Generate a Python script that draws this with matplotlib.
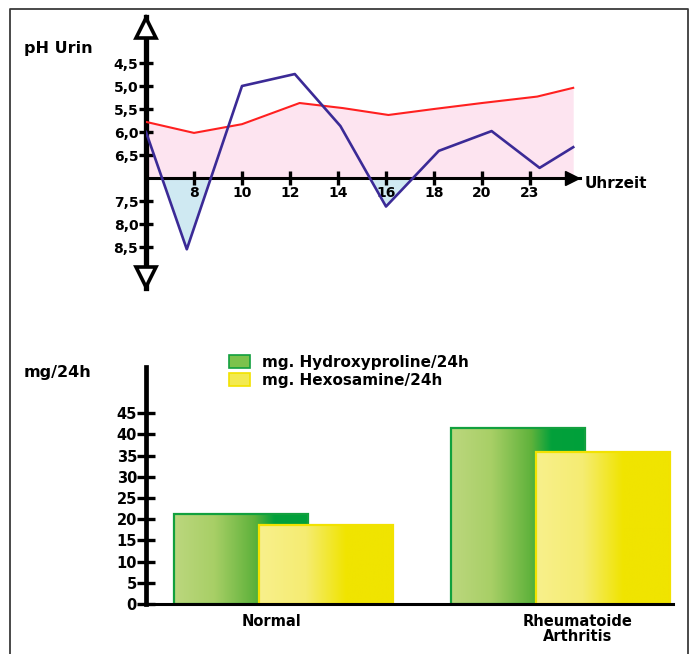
import numpy as np
import matplotlib.pyplot as plt
from matplotlib.colors import LinearSegmentedColormap
from matplotlib.patches import Patch
from matplotlib.lines import Line2D
from matplotlib.transforms import blended_transform_factory

# --- data: urine pH over the day ---
hour_ticks = [8, 10, 12, 14, 16, 18, 20, 22]
hour_labels = ['8', '10', '12', '14', '16', '18', '20', '23']
ph_ticks = [4.5, 5.0, 5.5, 6.0, 6.5, 7.5, 8.0, 8.5]
ph_labels = ['4,5', '5,0', '5,5', '6,0', '6,5', '7,5', '8,0', '8,5']

red_x = [6, 8, 10, 12.4, 14.2, 16.1, 18, 20, 22.3, 23.8]
red_ph = [5.78, 6.02, 5.83, 5.37, 5.48, 5.63, 5.5, 5.37, 5.23, 5.04]
blue_x = [6, 7.7, 10, 12.2, 14.1, 16.0, 18.2, 20.4, 22.4, 23.8]
blue_ph = [6.0, 8.55, 5.0, 4.74, 5.87, 7.62, 6.41, 5.98, 6.78, 6.33]

# --- data: excretion per 24h ---
groups = ['Normal', 'Rheumatoide\nArthritis']
hydroxyproline = [21.3, 41.5]
hexosamine = [18.7, 35.8]
mg_ticks = [0, 5, 10, 15, 20, 25, 30, 35, 40, 45]

W, H = 693, 654
fig = plt.figure(figsize=(W / 100, H / 100), dpi=100)
fig.patch.set_facecolor('white')


def px_axes(left, top, right, bottom):
    # axes placed by pixel box of the reference picture
    return fig.add_axes([left / W, 1 - bottom / H, (right - left) / W, (bottom - top) / H])


bold = dict(family='DejaVu Sans', weight='bold')

# ---------------- top chart ----------------
ax = px_axes(146, 17, 580, 288)
ax.set_xlim(6, 6 + 434 / 24)
ax.set_ylim(7 + 110 / 46, 7 - 161 / 46)
ax.patch.set_alpha(0)

rx = np.array(red_x)
ry = np.array(red_ph)
bx = np.array(blue_x)
by = np.array(blue_ph)
ax.fill_between(rx, ry, 7, color='#fde4f0', lw=0, zorder=1)
ax.fill_between(bx, by, 7, where=by > 7, interpolate=True, color='#cfe9f2', lw=0, zorder=1)
ax.plot(rx, ry, color='#ff2020', lw=1.5, zorder=3)
ax.plot(bx, by, color='#3b2a96', lw=1.9, zorder=3)

for s in ['top', 'right']:
    ax.spines[s].set_visible(False)
ax.spines['left'].set_linewidth(3.8)
ax.spines['bottom'].set_position(('data', 7))
ax.spines['bottom'].set_linewidth(2.2)
ax.set_xticks(hour_ticks, hour_labels)
ax.set_yticks(ph_ticks, ph_labels)
ax.tick_params(axis='y', direction='inout', length=10, width=2.4, pad=0.5, labelsize=10)
ax.tick_params(axis='x', direction='inout', length=10, width=2.4, pad=1, labelsize=10)
for lab in ax.get_xticklabels() + ax.get_yticklabels():
    lab.set_fontweight('bold')

# axis arrow heads
ax.plot(0, 1 - 11 / 271, marker='^', ms=15, mfc='white', mec='black', mew=2.6,
        transform=ax.transAxes, clip_on=False, zorder=6)
ax.plot(0, 11 / 271, marker='v', ms=15, mfc='white', mec='black', mew=2.6,
        transform=ax.transAxes, clip_on=False, zorder=6)
ax.plot(1 - 8 / 434, 7, marker='>', ms=10, color='black',
        transform=blended_transform_factory(ax.transAxes, ax.transData),
        clip_on=False, zorder=6)

fig.text(585 / W, 1 - 183 / H, 'Uhrzeit', fontsize=11, va='center', ha='left', **bold)
fig.text(24 / W, 1 - 48 / H, 'pH Urin', fontsize=11.5, va='center', ha='left', **bold)

# ---------------- bottom chart ----------------
bx2 = px_axes(146, 367, 673, 604)
bx2.patch.set_alpha(0)

x = np.arange(len(groups))
width = 134 / 277
off = 42.5 / 277

green_cmap = LinearSegmentedColormap.from_list(
    'g', [(0, '#bcd77e'), (0.3, '#a8cf66'), (0.6, '#5fb23b'), (0.75, '#03a13b'), (1, '#00a03a')])
yellow_cmap = LinearSegmentedColormap.from_list(
    'y', [(0, '#f8f08c'), (0.35, '#f5ec72'), (0.65, '#f0e400'), (1, '#f0e400')])
grad = np.linspace(0, 1, 256).reshape(1, -1)


def gradient_bars(xpos, vals, cmap, edge, z):
    bars = bx2.bar(xpos, vals, width, facecolor='none', edgecolor=edge, lw=1.6, zorder=z + 0.1)
    for b in bars:
        im = bx2.imshow(grad, cmap=cmap, aspect='auto', zorder=z,
                        extent=(b.get_x(), b.get_x() + b.get_width(), 0, b.get_height()))
        im.set_clip_path(b)
    return bars


gradient_bars(x - off, hydroxyproline, green_cmap, '#12a03e', 2)
gradient_bars(x + off, hexosamine, yellow_cmap, '#f2e200', 3)
bx2.set_xlim(-137 / 277, 390 / 277)
bx2.set_ylim(0, 237 / (21.2 / 5))

for s in ['top', 'right']:
    bx2.spines[s].set_visible(False)
bx2.spines['left'].set_linewidth(3.4)
bx2.spines['bottom'].set_linewidth(2.2)
bx2.spines['left'].set_zorder(5)
bx2.spines['bottom'].set_zorder(5)
bx2.set_yticks(mg_ticks)
bx2.tick_params(axis='y', direction='inout', length=13, width=2.4, pad=0, labelsize=10.5)
bx2.set_xticks(x + np.array([-0.04, 0.065]), groups)
bx2.tick_params(axis='x', length=0, pad=7, labelsize=10.5)
for lab in bx2.get_xticklabels() + bx2.get_yticklabels():
    lab.set_fontweight('bold')
for lab in bx2.get_xticklabels():
    lab.set_linespacing(1.0)

handles = [Patch(facecolor='#7cc24c', edgecolor='#12a03e', lw=1.2),
           Patch(facecolor='#f3ea50', edgecolor='#f2e200', lw=1.2)]
fig.legend(handles, ['mg. Hydroxyproline/24h', 'mg. Hexosamine/24h'],
           loc='upper left', bbox_to_anchor=(229 / W, 1 - 355 / H), frameon=False,
           prop=dict(family='DejaVu Sans', weight='bold', size=11),
           handlelength=1.4, handleheight=0.95, handletextpad=0.75,
           labelspacing=0.2, borderpad=0, borderaxespad=0)

fig.text(24 / W, 1 - 373 / H, 'mg/24h', fontsize=11.5, va='center', ha='left', **bold)

# frame around the picture (open at the bottom)
l, r, t = 10 / W, 688 / W, 1 - 9 / H
fig.add_artist(Line2D([l, l, r, r], [0, t, t, 0], color='#3a3a3a', lw=1.3))

fig.savefig('out.png', dpi=100)
